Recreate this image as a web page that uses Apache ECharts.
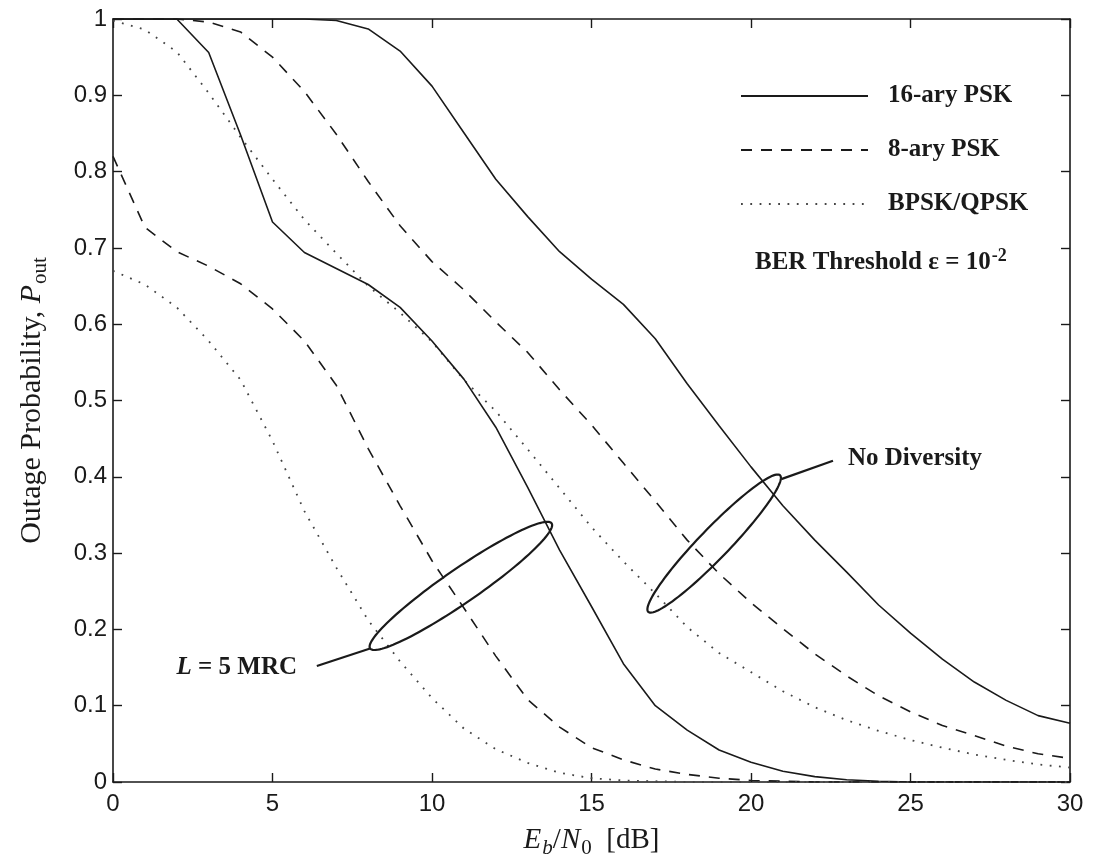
<!DOCTYPE html>
<html>
<head>
<meta charset="utf-8">
<script src="https://cdn.jsdelivr.net/npm/echarts@6/dist/echarts.min.js"></script>
<style>
html,body{margin:0;padding:0;background:#fff;}
#chart{width:1094px;height:864px;}
</style>
</head>
<body>
<div id="chart"></div>
<script>
// ---------- data ----------
const ebn0 = [0,1,2,3,4,5,6,7,8,9,10,11,12,13,14,15,16,17,18,19,20,21,22,23,24,25,26,27,28,29,30];

// No diversity
const nd16psk = [1,1,1,1,1,1,1,0.998,0.987,0.958,0.912,0.851,0.79,0.741,0.695,0.659,0.626,0.581,0.522,0.467,0.413,0.362,0.317,0.275,0.232,0.195,0.161,0.131,0.107,0.087,0.077];
const nd8psk  = [1,1,1,0.996,0.983,0.95,0.905,0.849,0.787,0.729,0.682,0.645,0.603,0.563,0.514,0.468,0.418,0.368,0.317,0.273,0.235,0.201,0.168,0.139,0.113,0.092,0.074,0.061,0.047,0.037,0.031];
const ndBpsk  = [0.998,0.986,0.957,0.903,0.845,0.79,0.737,0.693,0.65,0.615,0.577,0.527,0.486,0.436,0.385,0.334,0.289,0.247,0.203,0.169,0.144,0.119,0.098,0.081,0.067,0.055,0.045,0.036,0.029,0.023,0.019];

// L = 5 MRC
const mrc16psk = [1,1,1,0.956,0.848,0.734,0.694,0.673,0.652,0.622,0.578,0.528,0.465,0.386,0.304,0.23,0.155,0.1,0.068,0.042,0.026,0.014,0.007,0.003,0.001,0,0,0,0,0,0];
const mrc8psk  = [0.82,0.727,0.695,0.676,0.653,0.62,0.578,0.52,0.437,0.362,0.29,0.228,0.165,0.108,0.072,0.045,0.029,0.017,0.01,0.005,0.002,0.001,0,0,0,0,0,0,0,0,0];
const mrcBpsk  = [0.67,0.652,0.622,0.578,0.527,0.447,0.355,0.281,0.212,0.158,0.11,0.07,0.043,0.025,0.012,0.005,0.002,0.001,0,0,0,0,0,0,0,0,0,0,0,0,0];

const legendNames = ['16-ary PSK','8-ary PSK','BPSK/QPSK'];

// annotation anchors (data coordinates)
const annotations = [
  {p1:[8.06,0.175], p2:[13.75,0.339], semiMinor:17, from:[8.06,0.175], to:[6.39,0.152],
   labelAt:[5.77,0.150], align:'right', text:'{i|L} = 5 MRC'},
  {p1:[16.78,0.223], p2:[20.91,0.402], semiMinor:15, from:[20.95,0.397], to:[22.57,0.421],
   labelAt:[23.04,0.424], align:'left', text:'No Diversity'}
];

// ---------- chart ----------
const chart = echarts.init(document.getElementById('chart'), null, {renderer:'canvas'});
const INK = '#1a1a1a';
const pairs = arr => ebn0.map((x,i)=>[x,arr[i]]);

const solid  = {color:INK, width:1.6, type:'solid'};
const dashed = {color:INK, width:1.6, type:[11,9]};
const dotted = {color:'#444', width:1.8, type:[1.8,7.5]};

function lineSeries(name, arr, style){
  return {name, type:'line', data:pairs(arr), symbol:'none', showSymbol:false,
    lineStyle:style, itemStyle:{color:style.color}, xAxisIndex:0, yAxisIndex:0,
    animation:false, silent:true, z:3};
}

const serifBold = 'bold 25px "Liberation Serif", "Times New Roman", serif';

function renderAnno(params, api){
  const a = annotations[params.dataIndex];
  const p1 = api.coord(a.p1), p2 = api.coord(a.p2);
  const cx=(p1[0]+p2[0])/2, cy=(p1[1]+p2[1])/2;
  const dx=p2[0]-p1[0], dy=p2[1]-p1[1];
  const semiMajor = Math.sqrt(dx*dx+dy*dy)/2;
  const th = Math.atan2(dy,dx);
  const ux=Math.cos(th), uy=Math.sin(th), vx=-Math.sin(th), vy=Math.cos(th);
  const pts=[];
  for(let k=0;k<=120;k++){
    const t=k/120*Math.PI*2;
    const c=Math.cos(t)*semiMajor, s=Math.sin(t)*a.semiMinor;
    pts.push([cx+c*ux+s*vx, cy+c*uy+s*vy]);
  }
  const f = api.coord(a.from), to = api.coord(a.to), lp = api.coord(a.labelAt);
  return {type:'group', children:[
    {type:'polygon', shape:{points:pts}, style:{fill:null, stroke:INK, lineWidth:2.2}},
    {type:'line', shape:{x1:f[0],y1:f[1],x2:to[0],y2:to[1]}, style:{stroke:INK, lineWidth:2.2}},
    {type:'text', x:lp[0], y:lp[1], style:{text:a.text, font:serifBold, fill:INK,
      textAlign:a.align, textVerticalAlign:'middle',
      rich:{i:{font:'italic bold 25px "Liberation Serif", serif', fill:INK}}}}
  ]};
}

const axisLine = {show:true, onZero:false, lineStyle:{color:INK, width:1.6}};
const axisTick = {show:true, inside:true, length:9, lineStyle:{color:INK, width:1.4}};

const option = {
  backgroundColor:'#fff',
  animation:false,
  grid:{left:113, right:24, top:19, bottom:80, containLabel:false},
  xAxis:[
    {type:'value', min:0, max:30, interval:5, position:'bottom',
     axisLine, axisTick, splitLine:{show:false},
     axisLabel:{color:INK, fontSize:24, fontFamily:'"Liberation Sans", Arial, sans-serif', margin:10},
     name:'{i|E}{isub|b}{n|/}{i|N}{sub|0}{n|  [dB]}', nameLocation:'middle', nameGap:40,
     nameTextStyle:{rich:{
       i:{fontFamily:'"Liberation Serif", serif', fontStyle:'italic', fontSize:29, color:INK},
       n:{fontFamily:'"Liberation Serif", serif', fontSize:29, color:INK},
       isub:{fontFamily:'"Liberation Serif", serif', fontStyle:'italic', fontSize:21, color:INK, padding:[16,0,0,1]},
       sub:{fontFamily:'"Liberation Serif", serif', fontSize:21, color:INK, padding:[16,0,0,1]}
     }}},
    {type:'value', min:0, max:30, interval:5, position:'top',
     axisLine, axisTick, axisLabel:{show:false}, splitLine:{show:false}}
  ],
  yAxis:[
    {type:'value', min:0, max:1, interval:0.1, position:'left',
     axisLine, axisTick, splitLine:{show:false},
     axisLabel:{color:INK, fontSize:24, fontFamily:'"Liberation Sans", Arial, sans-serif', margin:6},
     name:'{n|Outage Probability, }{i|P}{sub|out}', nameLocation:'middle', nameGap:62, nameRotate:90,
     nameTextStyle:{rich:{
       i:{fontFamily:'"Liberation Serif", serif', fontStyle:'italic', fontSize:30, color:INK},
       n:{fontFamily:'"Liberation Serif", serif', fontSize:30, color:INK},
       sub:{fontFamily:'"Liberation Serif", serif', fontSize:21, color:INK, padding:[16,0,0,1]}
     }}},
    {type:'value', min:0, max:1, interval:0.1, position:'right',
     axisLine, axisTick, axisLabel:{show:false}, splitLine:{show:false}}
  ],
  legend:{
    data:legendNames, orient:'vertical', left:735, top:76,
    itemWidth:127, itemHeight:14, itemGap:24,
    selectedMode:false,
    itemStyle:{opacity:0, borderWidth:0},
    textStyle:{fontFamily:'"Liberation Serif", "Times New Roman", serif', fontWeight:'bold',
      fontSize:25, color:INK, lineHeight:30, padding:[0,0,0,15]}
  },
  graphic:[
    {type:'text', x:755, y:263, z:10, silent:true,
     style:{text:'{b|BER Threshold ε = 10}{sup|-2}', fill:INK, textVerticalAlign:'middle',
       rich:{b:{font:serifBold, fill:INK},
             sup:{font:'bold 18px "Liberation Serif", serif', fill:INK, padding:[0,0,14,1]}}}}
  ],
  series:[
    lineSeries(legendNames[0], nd16psk, solid),
    lineSeries(legendNames[1], nd8psk, dashed),
    lineSeries(legendNames[2], ndBpsk, dotted),
    lineSeries(legendNames[0], mrc16psk, solid),
    lineSeries(legendNames[1], mrc8psk, dashed),
    lineSeries(legendNames[2], mrcBpsk, dotted),
    {type:'custom', name:'annotations', renderItem:renderAnno, data:annotations.map((a,i)=>[i]),
     xAxisIndex:0, yAxisIndex:0, clip:false, silent:true, z:5}
  ]
};
chart.setOption(option);
</script>
</body>
</html>
